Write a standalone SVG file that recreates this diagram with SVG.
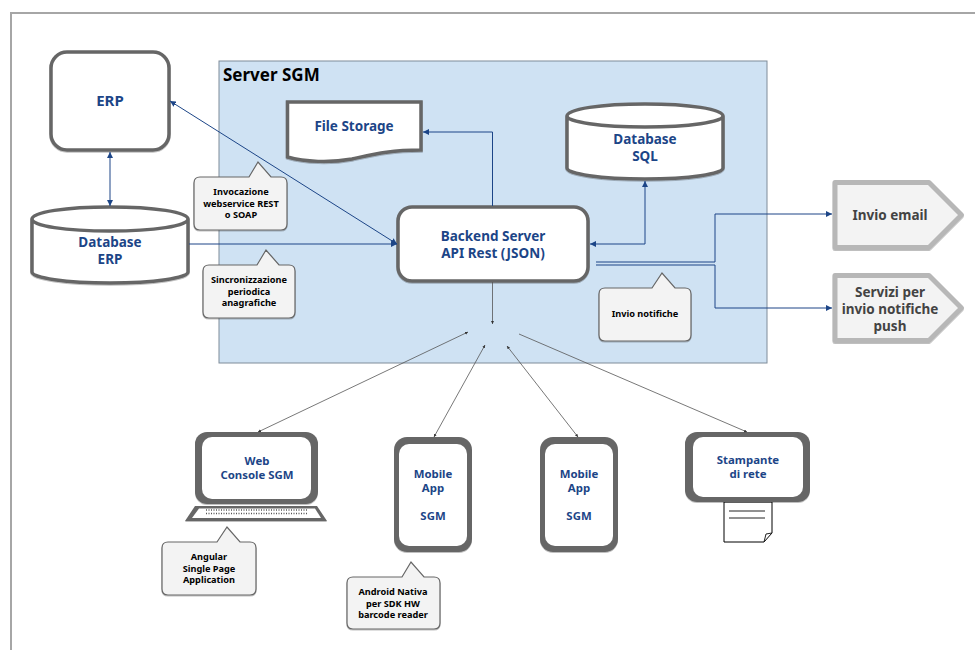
<svg xmlns="http://www.w3.org/2000/svg" width="975" height="650" viewBox="0 0 975 650">
<style>
text{font-family:"Noto Sans","Open Sans",sans-serif;font-weight:700;text-anchor:middle}
.n{font-size:13.5px;fill:#1c4587}
.d{font-size:11.4px;fill:#1c4587}
.g{font-size:13.5px;fill:#434343}
.c{font-size:9.2px;fill:#000}
.box{fill:#fff;stroke:#666;stroke-width:3.5;filter:url(#s)}
.dev{fill:#666;filter:url(#s)}
.scr{fill:#fff}
.call{fill:#f3f3f3;stroke:#666;stroke-width:1.2;filter:url(#s)}
.send{fill:#f3f3f3;stroke:#b7b7b7;stroke-width:5;stroke-linejoin:round;filter:url(#s)}
.b{fill:none;stroke:#1c4587;stroke-width:1;marker-end:url(#ab)}
.bb{marker-start:url(#ab)}
.k{fill:none;stroke:#555;stroke-width:.8;marker-end:url(#ak)}
.kk{marker-start:url(#ak)}
</style>
<defs>
<marker id="ab" markerUnits="userSpaceOnUse" markerWidth="7" markerHeight="6" refX="6" refY="3" orient="auto-start-reverse"><path d="M0 0L6 3L0 6z" fill="#1c4587"/></marker>
<marker id="ak" markerUnits="userSpaceOnUse" markerWidth="4" markerHeight="4" refX="3" refY="1.5" orient="auto-start-reverse"><path d="M0 0L3 1.5L0 3z" fill="#333"/></marker>
<filter id="s" x="-5%" y="-5%" width="110%" height="112%"><feDropShadow dx="0" dy="1" stdDeviation=".7" flood-color="#000" flood-opacity=".25"/></filter>
</defs>
<rect width="975" height="650" fill="#fff"/>
<path d="M11 650V13H975" fill="none" stroke="#a6a6a6" stroke-width="2"/>
<g id="server"><rect x="219" y="61" width="548" height="302" fill="#cfe2f3" stroke="#7f8c99" stroke-width="1"/><text x="223" y="81" style="font-size:17px;text-anchor:start;fill:#000">Server SGM</text></g>
<g id="erp"><rect class="box" x="51" y="52" width="118" height="98" rx="16"/><text class="n" x="110" y="106" style="font-size:15px">ERP</text></g>
<g id="database-erp"><path class="box" d="M32 219V272C32 278 66 283 110 283S188 278 188 272V219C188 212 154 207 110 207S32 212 32 219C32 226 66 231 110 231S188 226 188 219"/><text class="n" x="110" y="247">Database</text><text class="n" x="110" y="264">ERP</text></g>
<g id="file-storage"><path class="box" d="M287.500 102H421V150C390 150 375 154 352 159C330 163 305 162 287.500 157z"/><text class="n" x="354" y="131">File Storage</text></g>
<g id="database-sql"><path class="box" d="M567 116V168C567 174 601 179 645 179S723 174 723 168V116C723 109 689 104 645 104S567 109 567 116C567 122 601 127 645 127S723 122 723 116"/><text class="n" x="645" y="144">Database</text><text class="n" x="645" y="161">SQL</text></g>
<g id="backend"><rect class="box" x="398" y="207" width="190" height="74" rx="14"/><text class="n" x="493" y="241">Backend Server</text><text class="n" x="493" y="258">API Rest (JSON)</text></g>
<g id="invio-email"><path class="send" d="M835 182.500H929L961.500 215L929 247.500H835z"/><text class="g" x="890" y="220">Invio email</text></g>
<g id="servizi-push"><path class="send" d="M835 275.500H929L961.500 308L929 340.500H835z"/><text class="g" x="890" y="297">Servizi per</text><text class="g" x="890" y="314">invio notifiche</text><text class="g" x="890" y="331">push</text></g>
<g id="web-console"><rect class="dev" x="195" y="432" width="123" height="72" rx="12"/><rect class="scr" x="202" y="437" width="109" height="62" rx="10"/><path class="dev" d="M195 506H317L327 521H185z"/><path d="M199 508.500H315L321 518H192z" fill="#fff"/><path d="M206 510H308M206 513.500H308" stroke="#555" stroke-width="1.500" stroke-dasharray="1 1.500"/><text class="d" x="257" y="465">Web</text><text class="d" x="257" y="479">Console SGM</text></g>
<g id="mobile-app-1"><rect class="dev" x="394" y="437" width="78" height="115" rx="13"/><rect class="scr" x="399" y="444" width="68" height="102" rx="10"/><text class="d" x="433" y="478">Mobile</text><text class="d" x="433" y="492">App</text><text class="d" x="433" y="520">SGM</text></g>
<g id="mobile-app-2"><rect class="dev" x="540" y="437" width="78" height="115" rx="13"/><rect class="scr" x="545" y="444" width="68" height="102" rx="10"/><text class="d" x="579" y="478">Mobile</text><text class="d" x="579" y="492">App</text><text class="d" x="579" y="520">SGM</text></g>
<g id="stampante"><path d="M724 502V542H764L772 533V502z" fill="#fff" stroke="#000" stroke-width="1"/><path d="M764 542L766 534L772 533M729 511H765M729 518H765" fill="none" stroke="#222" stroke-width="1"/><rect class="dev" x="685" y="432" width="125" height="70" rx="12"/><rect class="scr" x="693" y="437" width="110" height="60" rx="10"/><text class="d" x="748" y="464">Stampante</text><text class="d" x="748" y="478">di rete</text></g>
<g id="connectors">
<path class="b bb" d="M170 101L397 244"/>
<path class="b bb" d="M110 152V206"/>
<path class="b" d="M189 244H397"/>
<path class="b" d="M492.500 206V132H423"/>
<path class="b bb" d="M590 244H645V181"/>
<path class="b" d="M596 262H715V214H832"/>
<path class="b" d="M596 265H715V308H832"/>
<path class="k" d="M492.500 282V324"/>
<path class="k kk" d="M258 432L468 332"/>
<path class="k kk" d="M434 437L485 345"/>
<path class="k kk" d="M578 437L507 346"/>
<path class="k kk" d="M747 432L519 334" style="marker-end:none"/>
</g>
<g id="note-invocazione"><path class="call" d="M200 177H249L258 162L271 177H281Q287 177 287 183V224Q287 230 281 230H200Q194 230 194 224V183Q194 177 200 177z"/><text class="c" x="241" y="195">Invocazione</text><text class="c" x="241" y="206.500">webservice REST</text><text class="c" x="241" y="218">o SOAP</text></g>
<g id="note-sincronizzazione"><path class="call" d="M209 265H257L266 250L279 265H289Q295 265 295 271V312Q295 318 289 318H209Q203 318 203 312V271Q203 265 209 265z"/><text class="c" x="249" y="283">Sincronizzazione</text><text class="c" x="249" y="294.500">periodica</text><text class="c" x="249" y="306">anagrafiche</text></g>
<g id="note-notifiche"><path class="call" d="M605 288H652L662 273L675 288H685Q691 288 691 294V335Q691 341 685 341H605Q599 341 599 335V294Q599 288 605 288z"/><text class="c" x="645" y="317">Invio notifiche</text></g>
<g id="note-angular"><path class="call" d="M168 542H217L227 527L240 542H250Q256 542 256 548V589Q256 595 250 595H168Q162 595 162 589V548Q162 542 168 542z"/><text class="c" x="209" y="560">Angular</text><text class="c" x="209" y="571.500">Single Page</text><text class="c" x="209" y="583">Application</text></g>
<g id="note-android"><path class="call" d="M353 577H402L411 562L424 577H434Q440 577 440 583V623Q440 629 434 629H353Q347 629 347 623V583Q347 577 353 577z"/><text class="c" x="393" y="595">Android Nativa</text><text class="c" x="393" y="606.500">per SDK HW</text><text class="c" x="393" y="618">barcode reader</text></g>
</svg>
